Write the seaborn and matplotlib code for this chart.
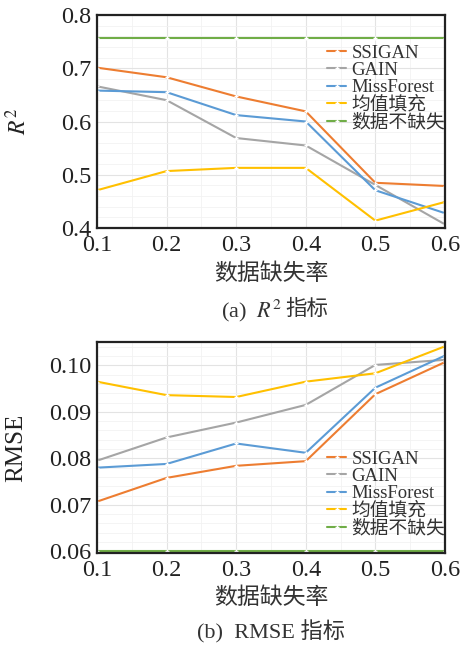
import pandas as pd
import seaborn as sns
import matplotlib.pyplot as plt
from matplotlib.ticker import AutoMinorLocator

# datos
tasa = [0.1, 0.2, 0.3, 0.4, 0.5, 0.6]
metodos = ['SSIGAN', 'GAIN', 'MissForest', '均值填充', '数据不缺失']
colores = ['#ED7D31', '#A5A5A5', '#5B9BD5', '#FFC000', '#70AD47']

r2_ssigan = [0.701, 0.683, 0.647, 0.619, 0.485, 0.479]
r2_gain = [0.666, 0.640, 0.569, 0.555, 0.481, 0.407]
r2_missforest = [0.658, 0.655, 0.612, 0.600, 0.471, 0.428]
r2_media = [0.471, 0.507, 0.513, 0.513, 0.414, 0.449]
r2_completo = [0.757, 0.757, 0.757, 0.757, 0.757, 0.757]

rmse_ssigan = [0.0707, 0.0758, 0.0784, 0.0794, 0.0938, 0.1007]
rmse_gain = [0.0795, 0.0845, 0.0877, 0.0915, 0.1001, 0.1012]
rmse_missforest = [0.0780, 0.0788, 0.0832, 0.0812, 0.0952, 0.1021]
rmse_media = [0.0965, 0.0936, 0.0932, 0.0965, 0.0983, 0.1041]
rmse_completo = [0.0601, 0.0601, 0.0601, 0.0601, 0.0601, 0.0601]


def a_tabla(series):
    filas = []
    for nombre, valores in zip(metodos, series):
        for t, v in zip(tasa, valores):
            filas.append({'tasa': t, 'metodo': nombre, 'valor': v})
    return pd.DataFrame(filas)


df_r2 = a_tabla([r2_ssigan, r2_gain, r2_missforest, r2_media, r2_completo])
df_rmse = a_tabla([rmse_ssigan, rmse_gain, rmse_missforest, rmse_media, rmse_completo])

sns.set_theme(style='whitegrid')
plt.rcParams['font.family'] = ['Liberation Serif', 'Noto Sans CJK SC']
plt.rcParams['mathtext.fontset'] = 'stix'
plt.rcParams['axes.unicode_minus'] = False

fig = plt.figure(figsize=(4.62, 6.48), dpi=100)
ax1 = fig.add_axes([0.210, 0.648, 0.753, 0.329])
ax2 = fig.add_axes([0.210, 0.147, 0.753, 0.325])


def dibujar(ax, df, ylim, yticks, ylabel, ytickfmt, legend_anchor, ylabel_x, ylabel_size):
    sns.lineplot(data=df, x='tasa', y='valor', hue='metodo', hue_order=metodos,
                 palette=colores, linewidth=1.5, marker='+', markersize=3,
                 markeredgewidth=1, ax=ax)
    ax.set_xlim(0.1, 0.6)
    ax.set_ylim(*ylim)
    ax.set_xticks(tasa)
    ax.set_xticklabels([f'{t:.1f}' for t in tasa])
    ax.set_yticks(yticks)
    ax.set_yticklabels([ytickfmt.format(v) for v in yticks])
    ax.xaxis.set_minor_locator(AutoMinorLocator(2))
    ax.yaxis.set_minor_locator(AutoMinorLocator(5))
    ax.grid(which='major', color='#E3E3E3', linewidth=0.8)
    ax.grid(which='minor', color='#F2F2F2', linewidth=0.6)
    ax.set_facecolor('white')
    for s in ax.spines.values():
        s.set_color('#222222')
        s.set_linewidth(1.6)
    ax.tick_params(axis='both', which='major', direction='in', length=4,
                   width=1.2, color='black', labelsize=17.5, labelcolor='#222222')
    ax.tick_params(axis='x', which='major', pad=5)
    ax.tick_params(axis='y', which='major', pad=4)
    ax.tick_params(axis='both', which='minor', length=0)
    ax.set_xlabel('数据缺失率', fontsize=16.5, labelpad=5, color='#333333')
    ax.set_ylabel(ylabel, fontsize=ylabel_size, color='#222222')
    ax.yaxis.set_label_coords(ylabel_x, 0.5)
    leg = ax.legend(loc='upper left', bbox_to_anchor=legend_anchor, frameon=False,
                    fontsize=13.5, handlelength=1.0, handletextpad=0.3,
                    labelspacing=0.0, borderaxespad=0)
    for t in leg.get_texts():
        t.set_color('#333333')


dibujar(ax1, df_r2, (0.4, 0.8), [0.4, 0.5, 0.6, 0.7, 0.8], '$R^2$', '{:.1f}',
        (0.64, 0.895), -0.19, 17)
dibujar(ax2, df_rmse, (0.0597, 0.105), [0.06, 0.07, 0.08, 0.09, 0.10], 'RMSE', '{:.2f}',
        (0.64, 0.52), -0.20, 18)

fig.text(0.612, 0.521, '(a)  $R^2$', ha='right', va='center', fontsize=16, color='#333333')
fig.text(0.617, 0.521, '指标', ha='left', va='center', fontsize=15.5, color='#333333')
fig.text(0.587, 0.025, '(b)  RMSE 指标', ha='center', va='center', fontsize=16, color='#333333')

fig.savefig('out.png', dpi=100)
